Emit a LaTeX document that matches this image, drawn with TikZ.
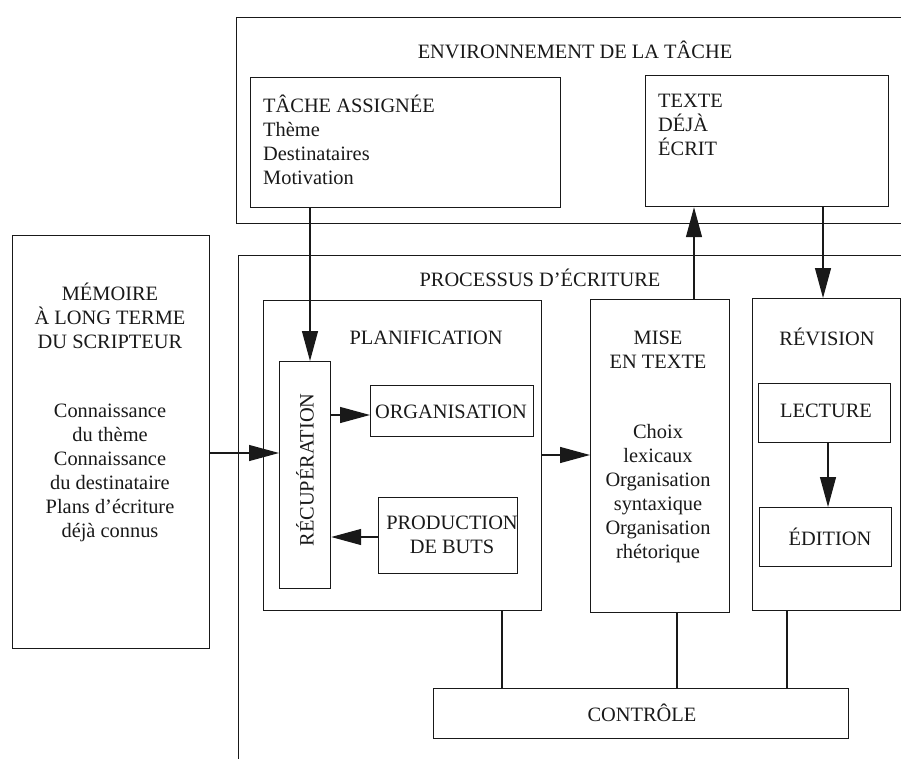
\documentclass[tikz,border=0pt]{standalone}
\usepackage{fontspec}
\setmainfont{Liberation Serif}
\usetikzlibrary{arrows.meta,calc}
\definecolor{ink}{gray}{0.1}
\begin{document}
\begin{tikzpicture}[x=1pt,y=-1pt,
  box/.style={draw=ink, line width=1.2pt, inner sep=0pt, anchor=north west},
  lbl/.style={text=ink, inner sep=0pt, font=\fontsize{20.4}{24}\selectfont, align=center},
  arr/.style={draw=ink, line width=1.2pt, -{Triangle[length=30pt,width=16pt]}},
  ln/.style={draw=ink, line width=1.2pt}]
\useasboundingbox (0,0) rectangle (901,758);
\clip (0,0) rectangle (901,758);

% boxes
\node[box, minimum width=800pt, minimum height=206pt] (env) at (236,17) {};
\node[box, minimum width=310pt, minimum height=130pt] (tache) at (250,77) {};
\node[box, minimum width=243pt, minimum height=131pt] (texte) at (645,75) {};
\node[box, minimum width=197pt, minimum height=413pt] (memoire) at (12,235) {};
\node[box, minimum width=800pt, minimum height=600pt] (proc) at (238,255) {};
\node[box, minimum width=278pt, minimum height=310pt] (planif) at (263,300) {};
\node[box, minimum width=51pt, minimum height=227pt] (recup) at (279,361) {};
\node[box, minimum width=163pt, minimum height=51pt] (orga) at (370,385) {};
\node[box, minimum width=139pt, minimum height=76pt] (prod) at (378,497) {};
\node[box, minimum width=139pt, minimum height=313pt] (mise) at (590,299) {};
\node[box, minimum width=148pt, minimum height=312pt] (revi) at (752,298) {};
\node[box, minimum width=132pt, minimum height=59pt] (lect) at (758,383) {};
\node[box, minimum width=132pt, minimum height=59pt] (edit) at (759,507) {};
\node[box, minimum width=415pt, minimum height=50pt] (ctrl) at (433,688) {};

% texts
\node[lbl] (tEnv) at (575,50) {ENVIRONNEMENT DE LA TÂCHE};
\node[lbl, align=left, anchor=west] (tTache) at (263,140) {TÂCHE ASSIGNÉE\\Thème\\Destinataires\\Motivation};
\node[lbl, align=left, anchor=west] (tTexte) at (658,125) {TEXTE\\DÉJÀ\\ÉCRIT};
\node[lbl] (tMem1) at (110,316) {MÉMOIRE\\À LONG TERME\\DU SCRIPTEUR};
\node[lbl] (tMem2) at (110,473) {Connaissance\\du thème\\Connaissance\\du destinataire\\Plans d’écriture\\déjà connus};
\node[lbl] (tProc) at (540,278) {PROCESSUS D’ÉCRITURE};
\node[lbl] (tPlan) at (426,338) {PLANIFICATION};
\node[lbl, rotate=90] (tRecup) at (305,470) {RÉCUPÉRATION};
\node[lbl] (tOrga) at (451,412) {ORGANISATION};
\node[lbl] (tProd) at (452,535) {PRODUCTION\\DE BUTS};
\node[lbl] (tMise1) at (658,350) {MISE\\EN TEXTE};
\node[lbl] (tMise2) at (658,494) {Choix\\lexicaux\\Organisation\\syntaxique\\Organisation\\rhétorique};
\node[lbl] (tRev) at (827,337) {RÉVISION};
\node[lbl] (tLect) at (826,411) {LECTURE};
\node[lbl] (tEdit) at (830,537) {ÉDITION};
\node[lbl] (tCtrl) at (642,713) {CONTRÔLE};

% helper coordinates
\coordinate (xa) at (310,0);
\coordinate (xb) at (694,0);
\coordinate (xc) at (823,0);
\coordinate (xd) at (828,0);
\coordinate (xe) at (502,0);
\coordinate (xf) at (677,0);
\coordinate (xg) at (787,0);
\coordinate (ya) at (0,453);
\coordinate (yb) at (0,455);
\coordinate (yc) at (0,415);
\coordinate (yd) at (0,537);

% connectors
\draw[arr] (tache.south -| xa) -- (recup.north -| xa);
\draw[arr] (mise.north -| xb) -- (texte.south -| xb);
\draw[arr] (texte.south -| xc) -- (revi.north -| xc);
\draw[arr] (memoire.east |- ya) -- (recup.west |- ya);
\draw[arr] (planif.east |- yb) -- (mise.west |- yb);
\draw[arr] (recup.east |- yc) -- (orga.west |- yc);
\draw[arr] (prod.west |- yd) -- (recup.east |- yd);
\draw[arr] (lect.south -| xd) -- (edit.north -| xd);
\draw[ln] (planif.south -| xe) -- (ctrl.north -| xe);
\draw[ln] (mise.south -| xf) -- (ctrl.north -| xf);
\draw[ln] (revi.south -| xg) -- (ctrl.north -| xg);
\end{tikzpicture}
\end{document}
